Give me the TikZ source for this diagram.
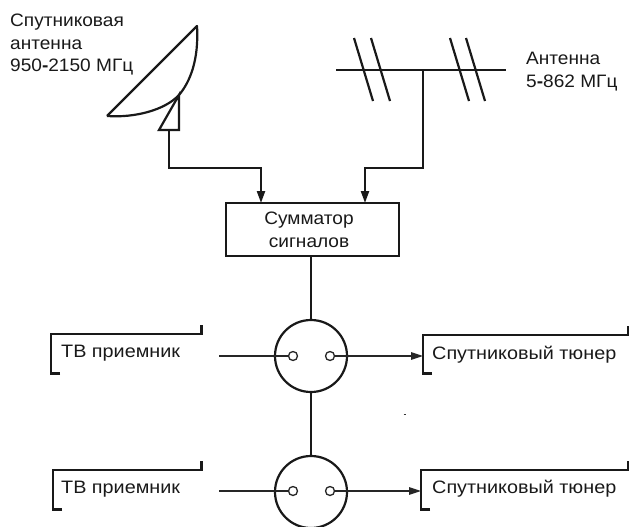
\documentclass[tikz,border=0pt]{standalone}
\usepackage{fontspec}
\setmainfont{Liberation Sans}
\newfontfamily\wideA[FakeStretch=1.06]{Liberation Sans}
\newfontfamily\wideB[FakeStretch=1.10]{Liberation Sans}
\usetikzlibrary{arrows.meta}
\tikzset{
  heavy/.style={line width=2.2pt,draw=black!90,line cap=butt},
  lighter/.style={line width=1.3pt,draw=black!85},
  feed/.style={heavy,-{Triangle[length=12pt,width=8pt]}},
  signal/.style={lighter,-{Triangle[length=12pt,width=7.5pt]}},
  lab/.style={anchor=base west,inner sep=0pt,font=\fontsize{18}{21}\wideA\selectfont,text=black!90},
  labw/.style={lab,font=\fontsize{18}{21}\wideB\selectfont},
  labc/.style={lab,anchor=base},
  summer/.style={heavy,draw,rectangle,minimum width=173pt,minimum height=53pt,inner sep=0pt,fill=white},
  splitter/.style={heavy,draw,circle,minimum size=72pt,inner sep=0pt},
  port/.style={lighter,draw,circle,minimum size=9pt,inner sep=0pt,fill=white},
  slot/.style={rectangle,inner sep=0pt,anchor=north west}
}
\begin{document}
\begin{tikzpicture}[x=1pt,y=-1pt]
\useasboundingbox (0,0) rectangle (629,527);
\clip (0,0) rectangle (629,527);
% texts
\node[lab] (t1) at (10,27) {Спутниковая};
\node[lab] (t2) at (10,50) {антенна};
\node[lab] (t3) at (10,72) {950{\bfseries -}2150 МГц};
\node[lab] (t4) at (526,65) {Антенна};
\node[lab] (t5) at (526,88) {5{\bfseries -}862 МГц};
% dish
\draw[heavy,line join=round] (107,116) -- (197,26) .. controls (199,60) and (190,82) .. (179,95)
  .. controls (165,110) and (135,118) .. (107,116);
\coordinate (dishtop) at (179,95);
\coordinate (feedbr) at (179,130);
\coordinate (feedbl) at (159,130);
\draw[heavy,line join=miter] (dishtop) -- (feedbr) -- (feedbl) -- cycle;
\coordinate (feedout) at (169,130);
% antenna
\coordinate (antL) at (336,70);
\coordinate (antR) at (506,70);
\coordinate (antM) at (423,70);
\draw[heavy] (antL) -- (antR);
\draw[heavy] (354,38) -- (373,101);
\draw[heavy] (371,38) -- (390,101);
\draw[heavy] (450,38) -- (469,101);
\draw[heavy] (466,38) -- (485,101);
% summer
\node[summer] (sum) at (312.5,229.5) {};
\node[labc] (s1) at (309,224) {Сумматор};
\node[labc] (s2) at (309,247) {сигналов};
\coordinate (sumA) at (261,203);
\coordinate (sumB) at (365,203);
\draw[feed] (feedout) -- (169,168) -- (261,168) -- (sumA);
\draw[feed] (antM) -- (423,168) -- (365,168) -- (sumB);
% splitters
\node[splitter] (c1) at (311,356) {};
\node[splitter] (c2) at (311,492) {};
\draw[heavy] (311,256) -- (c1.north);
\draw[heavy] (c1.south) -- (c2.north);
% slots (brackets)
\node[slot,minimum width=150pt,minimum height=39pt] (tv1) at (51,334) {};
\node[slot,minimum width=148pt,minimum height=39pt] (tv2) at (53,470) {};
\node[slot,minimum width=205pt,minimum height=38pt] (sat1) at (423,335) {};
\node[slot,minimum width=207pt,minimum height=39pt] (sat2) at (421,470) {};
\foreach \b in {tv1,tv2,sat1,sat2}{
  \draw[heavy,line cap=butt] ([xshift=9pt]\b.south west) -- (\b.south west) -- (\b.north west) -- (\b.north east) -- ([yshift=9pt]\b.north east);
}
\node[labw] (l1) at (61,357) {ТВ приемник};
\node[labw] (l2) at (61,493) {ТВ приемник};
\node[labw] (l3) at (432,359) {Спутниковый тюнер};
\node[labw] (l4) at (432,493) {Спутниковый тюнер};
% ports and connectors
\coordinate (in1) at (219,356);
\coordinate (in2) at (219,491);
\coordinate (out1) at (423,356);
\coordinate (out2) at (421,491);
\node[port] (p1a) at (293,356) {};
\node[port] (p1b) at (330,356) {};
\node[port] (p2a) at (293,491) {};
\node[port] (p2b) at (330,491) {};
\draw[lighter] (in1) -- (p1a);
\draw[lighter] (in2) -- (p2a);
\draw[signal] (p1b) -- (out1);
\draw[signal] (p2b) -- (out2);
% speck
\draw[line width=1pt,black!80] (403.5,414) -- (406,414);
\end{tikzpicture}
\end{document}
